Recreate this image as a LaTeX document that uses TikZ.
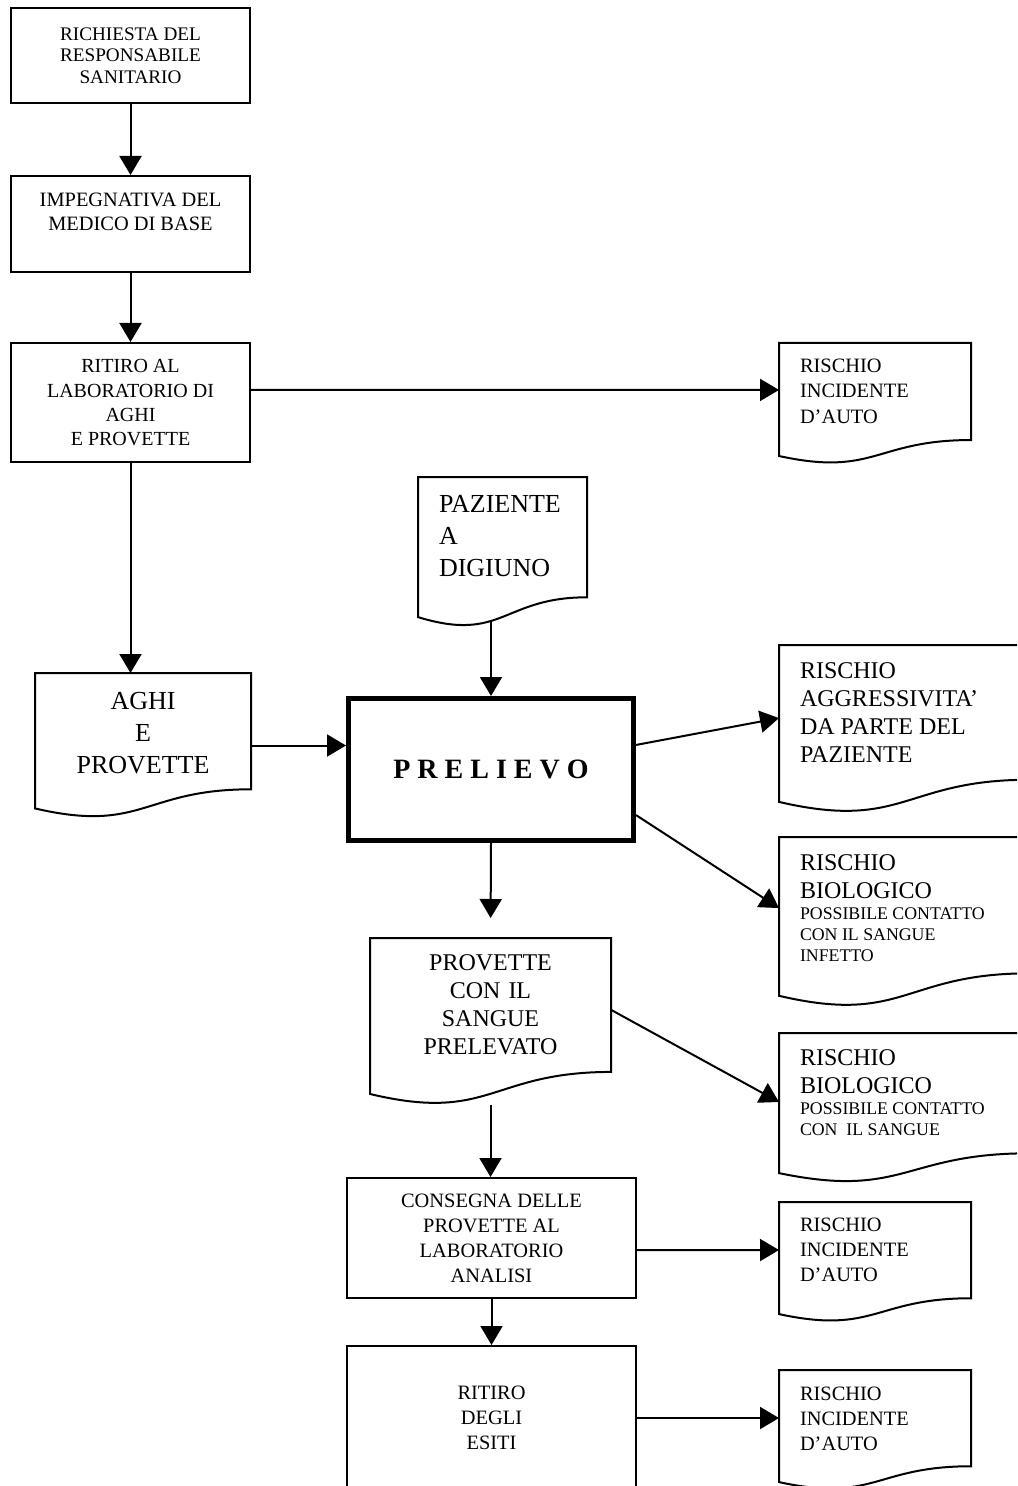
\documentclass[tikz,border=0pt]{standalone}
\usepackage{fontspec}
\setmainfont{Liberation Serif}
\usetikzlibrary{arrows.meta,calc}

\newcommand{\boxfont}{\fontsize{9.6}{10.75}\selectfont}
\newcommand{\midfont}{\fontsize{10.2}{12.5}\selectfont}
\newcommand{\riskfont}{\fontsize{12}{14}\selectfont}
\newcommand{\bigfont}{\fontsize{13}{16}\selectfont}
\newcommand{\notefont}{\fontsize{8.9}{10.5}\selectfont}

\begin{document}
\begin{tikzpicture}[x=0.5pt,y=-0.5pt,
		rbox/.style={draw,line width=1pt,align=center,inner sep=2pt,minimum width=119.5pt},
		docbox/.style={inner xsep=10.5pt,inner ysep=0pt,outer sep=0pt,align=flush left},
		arr/.style={line width=1pt,-{Triangle[length=9.5pt,width=11pt]}}]
	\useasboundingbox (0,0) rectangle (1017,1486);
	\clip (0,0) rectangle (1017,1486);

	% colonna di sinistra
	\node[rbox,minimum height=47.5pt,font=\boxfont] (richiesta) at (130.5,55.5) {RICHIESTA DEL\\RESPONSABILE\\SANITARIO};
	\node[rbox,minimum height=48pt,font=\fontsize{10.2}{12}\selectfont,inner ysep=0pt,text height=27.5pt,text depth=20.5pt] (impegnativa) at (130.5,224) {IMPEGNATIVA DEL\\MEDICO DI BASE};
	\node[rbox,minimum height=59.5pt,font=\fontsize{10}{12}\selectfont,inner ysep=0pt,text height=51pt,text depth=8.5pt] (ritiro) at (130.5,402.5) {RITIRO AL\\LABORATORIO DI\\AGHI\\E PROVETTE};
	\node[docbox,align=center,font=\bigfont,text width=87pt,text height=18pt,text depth=54.5pt] (aghi) at (143,745.5) {AGHI\\E\\PROVETTE};

	% colonna centrale
	\node[docbox,font=\bigfont,text width=63.5pt,text height=17.5pt,text depth=57.5pt] (paz) at (502.5,552) {PAZIENTE\\A\\DIGIUNO};
	\node[draw,line width=2.5pt,minimum width=142.5pt,minimum height=71pt,font=\fontsize{14}{16}\selectfont\bfseries] (prel) at (491,769.5) {P R E L I E V O};
	\node[docbox,align=center,font=\riskfont,text width=99.5pt,text height=16pt,text depth=67.5pt] (prov) at (490.5,1021.5) {PROVETTE\\CON IL\\SANGUE\\PRELEVATO};
	\node[rbox,minimum width=144.5pt,minimum height=60pt,font=\midfont] (consegna) at (491.5,1238) {CONSEGNA DELLE\\PROVETTE AL\\LABORATORIO\\ANALISI};
	\node[rbox,minimum width=144.5pt,minimum height=72pt,font=\midfont] (esiti) at (491.5,1418) {RITIRO\\DEGLI\\ESITI};

	% rischi
	\node[docbox,font=\midfont,text width=75pt,text height=15pt,text depth=45.5pt] (r1) at (875,403.5) {RISCHIO\\INCIDENTE\\D’AUTO};
	\node[docbox,font=\riskfont,text width=104pt,text height=16.5pt,text depth=67.5pt] (r2) at (904,729) {RISCHIO\\AGGRESSIVITA’\\DA PARTE DEL\\PAZIENTE};
	\node[docbox,font=\riskfont,text width=104pt,text height=16.5pt,text depth=68.5pt] (r3) at (904,922) {RISCHIO\\BIOLOGICO\par{\notefont POSSIBILE CONTATTO\\CON IL SANGUE\\INFETTO\par}};
	\node[docbox,font=\riskfont,text width=104pt,text height=16pt,text depth=59pt] (r4) at (904,1108) {RISCHIO\\BIOLOGICO\par{\notefont POSSIBILE CONTATTO\\CON~ IL SANGUE\par}};
	\node[docbox,font=\midfont,text width=75pt,text height=14.5pt,text depth=45.5pt] (r5) at (875,1262) {RISCHIO\\INCIDENTE\\D’AUTO};
	\node[docbox,font=\midfont,text width=75pt,text height=15pt,text depth=45pt] (r6) at (875,1430) {RISCHIO\\INCIDENTE\\D’AUTO};

	\foreach \n in {aghi,paz,prov,r1,r2,r3,r4,r5,r6}
		\draw[line width=1pt] (\n.north west) -- (\n.north east) -- ($(\n.north east)!.802!(\n.south east)$)
			.. controls ($(\n.north)!.802!(\n.south)$) and ($(\n.north)!1.107!(\n.south)$) .. ($(\n.north west)!.934!(\n.south west)$) -- cycle;

	\coordinate (pazend) at ($(paz.north west)!.96!(paz.south west)$);

	\draw[arr] (richiesta) -- (impegnativa);
	\draw[arr] (impegnativa) -- (ritiro);
	\draw[arr] ($(ritiro.north east)!.395!(ritiro.south east)$) -- ($(r1.north west)!.388!(r1.south west)$);
	\draw[arr] (ritiro.south) -- (ritiro.south |- aghi.north);
	\draw[arr] (aghi.east) -- (aghi.east -| prel.west);
	\draw[arr] (pazend -| prel.north) -- (prel.north);
	\draw[arr] ($(prel.north east)!.333!(prel.south east)$) -- ($(r2.north west)!.435!(r2.south west)$);
	\draw[arr] ($(prel.north east)!.81!(prel.south east)$) -- ($(r3.north west)!.418!(r3.south west)$);
	\draw[arr,shorten >=10pt] (prel.south) -- (prov.north);
	\draw[arr] ($(prov.north east)!.43!(prov.south east)$) -- ($(r4.north west)!.46!(r4.south west)$);
	\draw[arr] (prov.south) -- (prov.south |- consegna.north);
	\draw[arr] ($(consegna.north east)!.6!(consegna.south east)$) -- ($(r5.north west)!.4!(r5.south west)$);
	\draw[arr] (consegna) -- (esiti);
	\draw[arr] (esiti.east) -- (esiti.east -| r6.west);
\end{tikzpicture}
\end{document}
